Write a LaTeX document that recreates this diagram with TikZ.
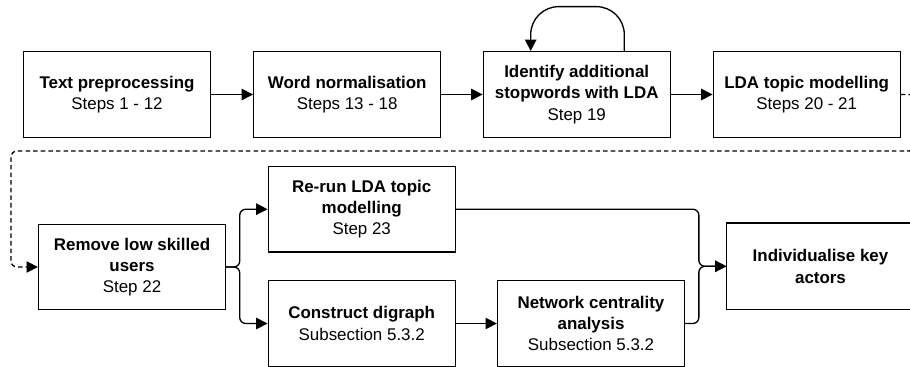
\documentclass[tikz,border=0pt]{standalone}
\usepackage{fontspec}
\setmainfont{Liberation Sans}
\usetikzlibrary{arrows.meta}
\begin{document}
\begin{tikzpicture}[x=0.75pt,y=-0.75pt,
  box/.style={draw, line width=1pt, minimum width=140.2pt, minimum height=64.2pt, inner sep=0pt, align=center, font=\fontsize{12.7}{16}\selectfont},
  conn/.style={line width=1pt, -{Triangle[length=8.5pt,width=8.5pt]}, rounded corners=4.5pt},
  dsh/.style={conn, dash pattern=on 3.4pt off 2.3pt}]
\useasboundingbox (0,0) rectangle (910,367);
\clip (0,0) rectangle (910,367);
\node[box] (B1) at (117,94.5) {\textbf{Text preprocessing}\\Steps 1 - 12};
\node[box] (B2) at (347.2,94.5) {\textbf{Word normalisation}\\Steps 13 - 18};
\node[box] (B3) at (576.7,94.5) {\textbf{Identify additional}\\\textbf{stopwords with LDA}\\Step 19};
\node[box] (B4) at (806.7,94.5) {\textbf{LDA topic modelling}\\Steps 20 - 21};
\node[box] (B5) at (132,267) {\textbf{Remove low skilled}\\\textbf{users}\\Step 22};
\node[box] (B6) at (361.7,209.2) {\textbf{Re-run LDA topic}\\\textbf{modelling}\\Step 23};
\node[box] (B7) at (361.7,323.5) {\textbf{Construct digraph}\\Subsection 5.3.2};
\node[box] (B8) at (591,323.5) {\textbf{Network centrality}\\\textbf{analysis}\\Subsection 5.3.2};
\node[box, draw=none] (B9) at (820.5,266.3) {\textbf{Individualise key}\\\textbf{actors}};
\draw[line width=1pt] (B9.north east) -- (B9.north west) -- (B9.south west) -- (B9.south east);
\draw[conn] (B1) -- (B2);
\draw[conn] (B2) -- (B3);
\draw[conn] (B3) -- (B4);
\draw[conn, rounded corners=21pt] ([xshift=35.7pt]B3.north) -- ++(0,-44.4) -| ([xshift=-34.5pt]B3.north);
\draw[dsh] (B4.east) -- ++(14,0) -- ++(0,56.5) -- (11,151) |- (B5.west);
\draw[conn] (B5.east) -- ++(13.6,0) |- (B6.west);
\draw[conn] (B5.east) -- ++(13.6,0) |- (B7.west);
\draw[conn] (B7) -- (B8);
\draw[conn] (B6.east) -- ++(243,0) |- (B9.west);
\draw[conn] (B8.east) -- ++(13.7,0) |- (B9.west);
\end{tikzpicture}
\end{document}
